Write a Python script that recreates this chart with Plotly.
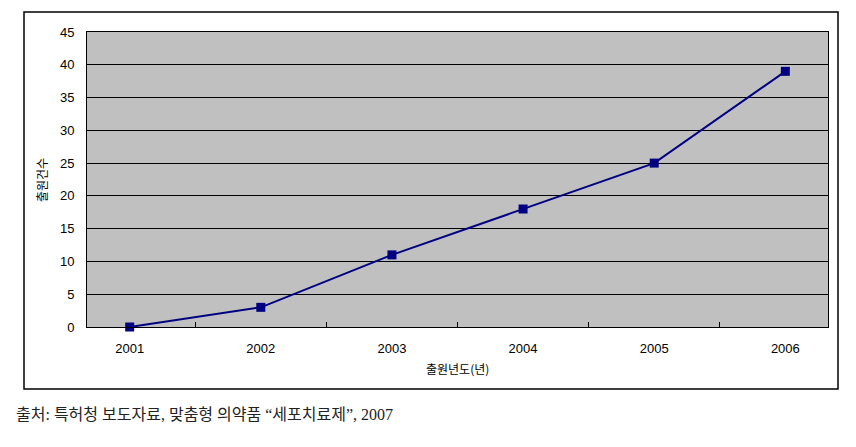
import plotly.graph_objects as go

years = ["2001", "2002", "2003", "2004", "2005", "2006"]
counts = [0, 3, 11, 18, 25, 39]
y_ticks = [0, 5, 10, 15, 20, 25, 30, 35, 40, 45]

OFF = 8  # page body margin
W, H = 856 - OFF, 447 - OFF
L, R, T, B = 87 - OFF, 828 - OFF, 32 - OFF, 327 - OFF
pw, ph = R - L, B - T

def px(x):
    return (x - OFF - L) / pw

def py(y):
    return (B - (y - OFF)) / ph

fig = go.Figure(go.Scatter(
    x=years, y=counts, mode="lines+markers",
    line=dict(color="#000080", width=2),
    marker=dict(symbol="square", size=9, color="#000080"),
    cliponaxis=False,
))

base_font = dict(family="Liberation Sans, Arial, Noto Sans CJK KR", size=13, color="#000000")

fig.update_layout(
    width=W, height=H,
    margin=dict(l=L, r=W - R, t=T, b=H - B),
    paper_bgcolor="white",
    plot_bgcolor="#C0C0C0",
    showlegend=False,
    font=base_font,
    xaxis=dict(
        type="category", showgrid=False, showline=True, mirror=True,
        linecolor="black", linewidth=1,
        ticks="inside", tickson="boundaries", ticklen=5, tickcolor="black",
        tickfont=dict(size=13), ticklabelstandoff=9,
    ),
    yaxis=dict(
        range=[0, 45], tickvals=y_ticks, showgrid=True, gridcolor="black",
        gridwidth=1, showline=True, mirror=True, linecolor="black",
        ticks="", tickfont=dict(size=13), ticklabelstandoff=9, zeroline=False,
    ),
    shapes=[dict(type="rect", xref="paper", yref="paper",
                 x0=px(24), x1=px(838), y0=py(389), y1=py(12),
                 line=dict(color="black", width=1.5), fillcolor="rgba(0,0,0,0)", layer="below")],
    annotations=[
        dict(text="출원건수", xref="paper", yref="paper", x=px(41), y=py(180),
             xanchor="center", yanchor="middle",
             textangle=-90, showarrow=False, font=dict(size=12, family="Noto Sans CJK KR")),
        dict(text="출원년도(년)", xref="paper", yref="paper", x=px(458), y=py(368),
             xanchor="center", yanchor="middle",
             showarrow=False, font=dict(size=12, family="Noto Sans CJK KR")),
        dict(text="출처: 특허청 보도자료, 맞춤형 의약품 “세포치료제”, 2007",
             xref="paper", yref="paper", x=px(14), y=py(414), xanchor="left", yanchor="middle",
             showarrow=False,
             font=dict(size=16, family="Liberation Serif, Noto Sans CJK KR", color="#222222")),
    ],
)

fig.write_html("out.html")
